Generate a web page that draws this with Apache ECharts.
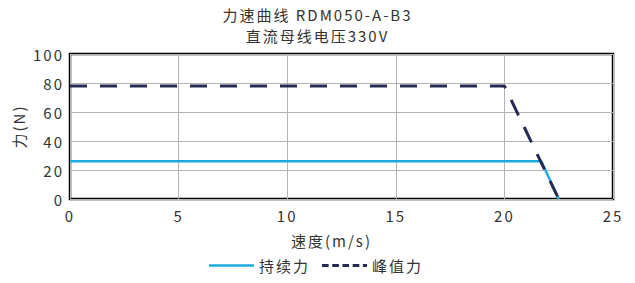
<!DOCTYPE html>
<html>
<head>
<meta charset="utf-8">
<script src="https://cdn.jsdelivr.net/npm/echarts@6/dist/echarts.min.js"></script>
<style>
  html, body { margin: 0; padding: 0; background: #fff; }
  #chart { width: 635px; height: 283px; }
  /* 原图文字字距较宽 */
  #chart text { letter-spacing: 2px; }
</style>
</head>
<body>
<div id="chart"></div>
<script>
// 数据
var seriesNames = ['持续力', '峰值力'];
var continuousSpeed = [0, 21.7, 22.5];
var continuousForce = [26, 26, 0];
var peakSpeed = [0, 20, 22.5];
var peakForce = [78, 78, 0];

var pairs = function (xs, ys) {
    return xs.map(function (x, i) { return [x, ys[i]]; });
};

var myChart = echarts.init(document.getElementById('chart'), null, { renderer: 'svg' });
var font = '"Noto Sans CJK SC", "Noto Sans", sans-serif';
var textColor = '#333';

var option = {
    animation: false,
    textStyle: { fontFamily: font },
    title: {
        text: '力速曲线 RDM050-A-B3\n直流母线电压330V',
        left: 'center',
        top: -1,
        textStyle: {
            fontSize: 15,
            fontWeight: 'normal',
            color: textColor,
            lineHeight: 21,
            fontFamily: font
        }
    },
    grid: {
        left: 70,
        right: 22,
        top: 54,
        bottom: 84,
        show: true,
        borderColor: '#000',
        borderWidth: 2.5
    },
    legend: {
        bottom: 5,
        left: 204,
        itemWidth: 45,
        itemHeight: 10,
        itemGap: 18,
        textStyle: { fontSize: 15, color: textColor, fontFamily: font },
        data: [
            { name: seriesNames[0], icon: 'path://M0,3.7L45,3.7L45,6.3L0,6.3Z' },
            { name: seriesNames[1], icon: 'path://M0,3.5L6.5,3.5L6.5,6.5L0,6.5Z M10,3.5L16.5,3.5L16.5,6.5L10,6.5Z M20,3.5L26.5,3.5L26.5,6.5L20,6.5Z M30,3.5L36.5,3.5L36.5,6.5L30,6.5Z M40,3.5L44,3.5L44,6.5L40,6.5Z' }
        ]
    },
    xAxis: {
        type: 'value',
        min: 0,
        max: 25,
        interval: 5,
        name: '速度(m/s)',
        nameLocation: 'middle',
        nameGap: 34,
        nameTextStyle: { fontSize: 15, color: textColor, padding: [0, 20, 0, 0] },
        axisLine: { show: false },
        axisTick: { show: false },
        axisLabel: { fontSize: 15, color: textColor, margin: 9 },
        splitLine: { show: true, lineStyle: { color: '#b4b4b4', width: 1 } }
    },
    yAxis: {
        type: 'value',
        min: 0,
        max: 100,
        interval: 20,
        name: '力(N)',
        nameLocation: 'middle',
        nameGap: 44,
        nameTextStyle: { fontSize: 15, color: textColor },
        axisLine: { show: false },
        axisTick: { show: false },
        axisLabel: { fontSize: 15, color: textColor, margin: 6 },
        splitLine: { show: true, lineStyle: { color: '#b4b4b4', width: 1 } }
    },
    series: [
        {
            name: seriesNames[0],
            type: 'line',
            data: pairs(continuousSpeed, continuousForce),
            symbol: 'none',
            itemStyle: { color: '#1fa9e1' },
            lineStyle: { color: '#1fa9e1', width: 2.5 }
        },
        {
            name: seriesNames[1],
            type: 'line',
            data: pairs(peakSpeed, peakForce),
            symbol: 'none',
            itemStyle: { color: '#262a52' },
            lineStyle: { color: '#262a52', width: 3, type: [17, 13] }
        }
    ]
};

myChart.setOption(option);
</script>
</body>
</html>
